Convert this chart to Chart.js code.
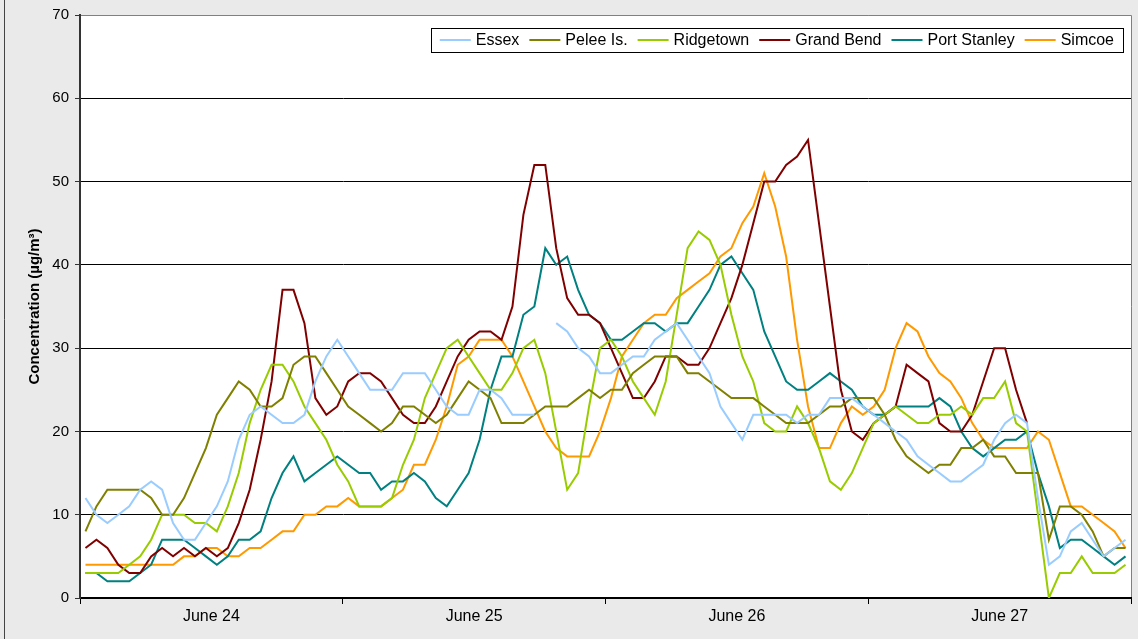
<!DOCTYPE html>
<html>
<head>
<meta charset="utf-8">
<script src="https://cdn.jsdelivr.net/npm/chart.js@4.4.1/dist/chart.umd.min.js"></script>
<style>
  html, body { margin: 0; padding: 0; background: #eaeaea; }
  #wrap { width: 1138px; height: 639px; position: relative; }
</style>
</head>
<body>
<div id="wrap"><canvas id="pm" width="1138" height="639"></canvas></div>
<script>
// Hourly PM2.5 by station, June 24-27 (96 hours). null = missing hour
const days = ['June 24', 'June 25', 'June 26', 'June 27'];
const stations = ['Essex', 'Pelee Is.', 'Ridgetown', 'Grand Bend', 'Port Stanley', 'Simcoe'];
const colors = ['#99ccff', '#808000', '#99cc00', '#800000', '#008080', '#ff9900'];

const essex = [12,10,9,10,11,13,14,13,9,7,7,9,11,14,19,22,23,22,21,21,22,26,29,31,
  29,27,25,25,25,27,27,27,25,23,22,22,25,25,24,22,22,22,null,33,32,30,29,27,
  27,28,29,29,31,32,33,31,29,27,23,21,19,22,22,22,22,21,22,22,24,24,24,23,
  22,21,20,19,17,16,15,14,14,15,16,19,21,22,21,12,4,5,8,9,7,5,6,7];
const pelee = [8,11,13,13,13,13,12,10,10,12,15,18,22,24,26,25,23,23,24,28,29,29,27,25,
  23,22,21,20,21,23,23,22,21,22,24,26,25,24,21,21,21,22,23,23,23,24,25,24,
  25,25,27,28,29,29,29,27,27,26,25,24,24,24,23,22,21,21,21,22,23,23,24,24,
  24,22,19,17,16,15,16,16,18,18,19,17,17,15,15,15,7,11,11,10,8,5,6,6];
const ridgetown = [3,3,3,3,4,5,7,10,10,10,9,9,8,11,15,21,25,28,28,26,23,21,19,16,
  14,11,11,11,12,16,19,24,27,30,31,29,27,25,25,27,30,31,27,20,13,15,23,30,
  31,29,26,24,22,26,34,42,44,43,40,34,29,26,21,20,20,23,21,18,14,13,15,18,
  21,22,23,22,21,21,22,22,23,22,24,24,26,21,20,10,0,3,3,5,3,3,3,4];
const grandBend = [6,7,6,4,3,3,5,6,5,6,5,6,5,6,9,13,19,26,37,37,33,24,22,23,
  26,27,27,26,24,22,21,21,23,26,29,31,32,32,31,35,46,52,52,42,36,34,34,33,
  30,27,24,24,26,29,29,28,28,30,33,36,40,45,50,50,52,53,55,45,35,25,20,19,
  21,22,23,28,27,26,21,20,20,22,26,30,30,25,21,null,null,null,null,null,null,null,null,null];
const portStanley = [3,3,2,2,2,3,4,7,7,7,6,5,4,5,7,7,8,12,15,17,14,15,16,17,
  16,15,15,13,14,14,15,14,12,11,13,15,19,25,29,29,34,35,42,40,41,37,34,33,
  31,31,32,33,33,32,33,33,35,37,40,41,39,37,32,29,26,25,25,26,27,26,25,23,
  22,22,23,23,23,23,24,23,20,18,17,18,19,19,20,15,11,6,7,7,6,5,4,5];
const simcoe = [4,4,4,4,4,4,4,4,4,5,5,6,6,5,5,6,6,7,8,8,10,10,11,11,
  12,11,11,11,12,13,16,16,19,23,28,29,31,31,31,29,26,23,20,18,17,17,17,20,
  24,29,31,33,34,34,36,37,38,39,41,42,45,47,51,47,41,31,23,18,18,21,23,22,
  23,25,30,33,32,29,27,26,24,21,19,18,18,18,18,20,19,15,11,11,10,9,8,6];

const series = [essex, pelee, ridgetown, grandBend, portStanley, simcoe];
const yTicks = [0, 10, 20, 30, 40, 50, 60, 70];

const FONT = 'Arial, "Liberation Sans", sans-serif';

// each hour sits in the middle of its slot, days span 24 slots
const datasets = series.map((vals, k) => ({
  label: stations[k],
  data: vals.map((v, i) => ({ x: i + 0.5, y: v })),
  borderColor: colors[k],
  backgroundColor: colors[k],
  borderWidth: 2,
  pointRadius: 0,
  tension: 0,
  spanGaps: false
}));

// white plot area with grey frame, outer chart border
const frame = {
  id: 'frame',
  beforeDraw(chart) {
    const { ctx, chartArea: a } = chart;
    ctx.save();
    ctx.fillStyle = '#eaeaea';
    ctx.fillRect(0, 0, chart.width, chart.height);
    ctx.fillStyle = '#fff';
    ctx.fillRect(a.left, a.top, a.right - a.left, a.bottom - a.top);
    ctx.strokeStyle = '#808080';
    ctx.lineWidth = 1;
    ctx.beginPath();
    ctx.moveTo(a.left, a.top + 0.5);
    ctx.lineTo(a.right + 0.5, a.top + 0.5);
    ctx.lineTo(a.right + 0.5, a.bottom);
    ctx.stroke();
    ctx.strokeStyle = '#444';
    ctx.beginPath();
    ctx.moveTo(4.5, 0);
    ctx.lineTo(4.5, chart.height);
    ctx.stroke();
    ctx.restore();
  }
};

// boxed legend inside the plot, top right
const boxLegend = {
  id: 'boxLegend',
  afterDatasetsDraw(chart) {
    const { ctx, chartArea: a } = chart;
    ctx.save();
    ctx.font = '16px ' + FONT;
    const lineLen = 31, gapIn = 5, gapOut = 10, padX = 9;
    const widths = chart.data.datasets.map(d => ctx.measureText(d.label).width);
    let total = padX * 2 - gapOut;
    widths.forEach(w => { total += lineLen + gapIn + w + gapOut; });
    const right = a.right - 8, top = a.top + 13, h = 24;
    const left = right - total;
    ctx.fillStyle = '#fff';
    ctx.fillRect(left, top, total, h);
    ctx.strokeStyle = '#000';
    ctx.lineWidth = 1;
    ctx.strokeRect(Math.round(left) + 0.5, top + 0.5, Math.round(total), h);
    const cy = top + h / 2;
    let x = left + padX;
    chart.data.datasets.forEach((d, k) => {
      ctx.strokeStyle = d.borderColor;
      ctx.lineWidth = 2;
      ctx.beginPath();
      ctx.moveTo(x, cy);
      ctx.lineTo(x + lineLen, cy);
      ctx.stroke();
      x += lineLen + gapIn;
      ctx.fillStyle = '#000';
      ctx.textBaseline = 'middle';
      ctx.fillText(d.label, x, cy + 1);
      x += widths[k] + gapOut;
    });
    ctx.restore();
  }
};

new Chart(document.getElementById('pm'), {
  type: 'line',
  data: { datasets },
  options: {
    responsive: false,
    animation: false,
    layout: { padding: { left: 4, right: 7, top: 9, bottom: 0 } },
    plugins: { legend: { display: false }, tooltip: { enabled: false } },
    scales: {
      x: {
        type: 'linear',
        min: 0,
        max: series[0].length,
        afterBuildTicks: s => { s.ticks = []; for (let v = 0; v <= s.max; v += 12) s.ticks.push({ value: v }); },
        afterFit: s => { s.height = 41; },
        ticks: {
          autoSkip: false,
          maxRotation: 0,
          padding: 3,
          color: '#000',
          font: { family: FONT, size: 16 },
          callback: v => (v % 24 === 12 ? days[(v - 12) / 24] : '')
        },
        grid: {
          drawOnChartArea: false,
          tickLength: 6,
          tickColor: c => (c.tick && c.tick.value % 24 === 0 ? '#000' : 'rgba(0,0,0,0)')
        },
        border: { color: '#000', width: 2 }
      },
      y: {
        min: yTicks[0],
        max: yTicks[yTicks.length - 1],
        afterBuildTicks: s => { s.ticks = yTicks.map(v => ({ value: v })); },
        afterFit: s => { s.width = 76; },
        ticks: { padding: 6, color: '#000', font: { family: FONT, size: 15 } },
        grid: {
          color: c => (c.tick && c.tick.value === 70 ? '#808080' : '#000'),
          tickColor: '#333',
          tickLength: 5
        },
        border: { color: '#333', width: 2 },
        title: {
          display: true,
          text: 'Concentration (µg/m³)',
          color: '#000',
          font: { family: FONT, size: 15, weight: 'bold' },
          padding: { top: 22, bottom: 0 }
        }
      }
    }
  },
  plugins: [frame, boxLegend]
});
</script>
</body>
</html>
